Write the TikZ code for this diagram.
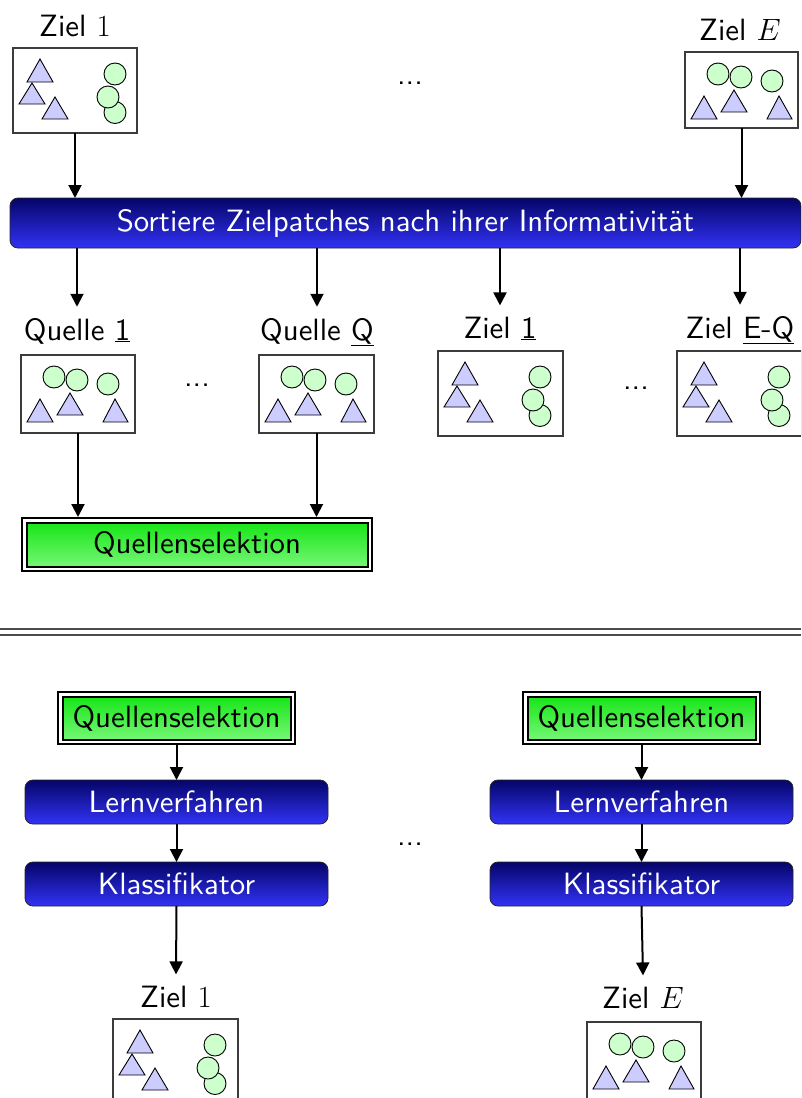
\RequirePackage{fix-cm}
\documentclass[tikz,border=0pt]{standalone}
\usepackage{fontspec}
\setsansfont{lmsans10-regular.otf}
\usetikzlibrary{arrows.meta,calc}

\definecolor{navytop}{RGB}{5,5,105}
\definecolor{bluebot}{RGB}{50,50,245}
\definecolor{greentop}{RGB}{20,228,20}
\definecolor{greenbot}{RGB}{120,248,120}
\definecolor{trifill}{RGB}{204,204,255}
\definecolor{circfill}{RGB}{204,255,204}
\definecolor{framegray}{RGB}{60,60,60}

\newcommand\bigsf{\sffamily\fontsize{30.8}{37}\selectfont}

% patch with triangles on the left, circles on the right
\newcommand\shapesA[1]{%
  \begin{scope}[shift={(#1.north west)}]
    \filldraw[tri] (27,11) -- (14,34) -- (40,34) -- cycle;
    \filldraw[tri] (19,35) -- (6,56) -- (32,56) -- cycle;
    \filldraw[tri] (42,49) -- (29,71) -- (55,71) -- cycle;
    \filldraw[circ] (102,26) circle[radius=11pt];
    \filldraw[circ] (102,64.5) circle[radius=11pt];
    \filldraw[circ] (95,49) circle[radius=11pt];
  \end{scope}}

% patch with circles on top, triangles below
\newcommand\shapesB[1]{%
  \begin{scope}[shift={(#1.north west)}]
    \filldraw[circ] (33,22) circle[radius=11pt];
    \filldraw[circ] (56,25) circle[radius=11pt];
    \filldraw[circ] (87,29) circle[radius=11pt];
    \filldraw[tri] (19,44) -- (6,67) -- (32,67) -- cycle;
    \filldraw[tri] (49,38) -- (36,60) -- (62,60) -- cycle;
    \filldraw[tri] (94,44) -- (82,67) -- (107,67) -- cycle;
  \end{scope}}

\tikzset{
  patch/.style={draw=framegray, line width=1.2pt, fill=white, inner sep=0pt,
    outer sep=0pt, anchor=north west},
  patchA/.style={patch, minimum width=124pt, minimum height=85pt},
  patchB/.style={patch, minimum width=114pt, minimum height=78pt},
  lbl/.style={font=\bigsf, anchor=base, inner xsep=0pt, inner ysep=11pt},
  dotsl/.style={font=\bigsf, anchor=base, inner sep=0pt},
  bluebox/.style={rounded corners=8pt, top color=navytop, bottom color=bluebot,
    draw=black!85, line width=0.8pt, text=white, font=\bigsf, inner sep=0pt,
    outer sep=0pt},
  selbox/.style={draw=black, line width=2pt, double=white, double distance=2.5pt,
    top color=greentop, bottom color=greenbot, font=\bigsf, inner sep=0pt,
    outer sep=3.25pt},
  arr/.style={line width=2pt, -{Triangle[length=13pt,width=13pt]}},
  tri/.style={fill=trifill, draw=black, line width=0.9pt},
  circ/.style={fill=circfill, draw=black, line width=0.9pt},
  sep/.style={draw=black!70, line width=1.3pt},
}

\begin{document}
\begin{tikzpicture}[x=1pt,y=-1pt]
  \useasboundingbox (0,0) rectangle (801,1098);
  \clip (0,0) rectangle (801,1098);

  % ---------- upper part: sorting the target patches ----------
  \node[lbl] (lz1) at (75,36) {Ziel $1$};
  \node[patchA] (z1) at (13,48) {};
  \shapesA{z1}
  \node[dotsl] (dtop) at (410,84) {...};
  \node[lbl] (lzE) at (740,40) {Ziel $E$};
  \node[patchB, minimum width=113pt, minimum height=76pt] (zE) at (685,52) {};
  \shapesB{zE}

  \node[bluebox, minimum width=791pt, minimum height=50pt] (bar) at (405.5,223)
    {Sortiere Zielpatches nach ihrer Informativität};

  \draw[arr] (z1.south) -- (z1.south |- bar.north);
  \draw[arr] (zE.south) -- (zE.south |- bar.north);

  \node[lbl] (lq1) at (77,340) {Quelle \underline{1}};
  \node[patchB] (q1) at (21,355) {};
  \shapesB{q1}
  \node[dotsl] (dq) at (197,386) {...};
  \node[lbl] (lqQ) at (317,340) {Quelle \underline{Q}};
  \node[patchB, minimum width=115pt] (qQ) at (259,355) {};
  \shapesB{qQ}

  \node[lbl] (lm1) at (500,338) {Ziel \underline{1}};
  \node[patchA, minimum width=125pt] (m1) at (438,351) {};
  \shapesA{m1}
  \node[dotsl] (dz) at (636,389) {...};
  \node[lbl] (lmEQ) at (740,338) {Ziel \underline{E-Q}};
  \node[patchA, minimum width=125pt] (mEQ) at (677,351) {};
  \shapesA{mEQ}

  \draw[arr] (lq1.north |- bar.south) -- (lq1.north);
  \draw[arr] (lqQ.north |- bar.south) -- (lqQ.north);
  \draw[arr] (lm1.north |- bar.south) -- (lm1.north);
  \draw[arr] (lmEQ.north |- bar.south) -- (lmEQ.north);

  \node[selbox, minimum width=345.5pt, minimum height=48.5pt] (qs1) at (197,544.5)
    {Quellenselektion};
  \draw[arr] (q1.south) -- (q1.south |- qs1.north);
  \draw[arr] (qQ.south) -- (qQ.south |- qs1.north);

  % ---------- separator ----------
  \draw[sep] (0,629) -- (801,629);
  \draw[sep] (0,635) -- (801,635);

  % ---------- lower part: one classifier per target ----------
  \node[selbox, minimum width=232.5pt, minimum height=47.5pt] (qsL) at (176.5,718)
    {Quellenselektion};
  \node[bluebox, minimum width=303pt, minimum height=44pt] (lernL) at (176.5,802)
    {Lernverfahren};
  \node[bluebox, minimum width=303pt, minimum height=44pt] (klassL) at (176.5,884)
    {Klassifikator};
  \node[lbl] (lzb1) at (176,1007) {Ziel $1$};
  \node[patchA, minimum width=125pt] (zb1) at (113,1019) {};
  \shapesA{zb1}

  \node[dotsl] (dbot) at (410,845) {...};

  \node[selbox, minimum width=232.5pt, minimum height=47.5pt] (qsR) at (641.5,718)
    {Quellenselektion};
  \node[bluebox, minimum width=303pt, minimum height=44pt] (lernR) at (641.5,802)
    {Lernverfahren};
  \node[bluebox, minimum width=303pt, minimum height=44pt] (klassR) at (641.5,884)
    {Klassifikator};
  \node[lbl] (lzbE) at (643,1008) {Ziel $E$};
  \node[patchB] (zbE) at (587,1022) {};
  \shapesB{zbE}

  \draw[arr] (qsL.south) -- (lernL.north);
  \draw[arr] (lernL.south) -- (klassL.north);
  \draw[arr] (klassL.south) -- (lzb1.north);
  \draw[arr] (qsR.south) -- (lernR.north);
  \draw[arr] (lernR.south) -- (klassR.north);
  \draw[arr] (klassR.south) -- (lzbE.north);
\end{tikzpicture}
\end{document}
